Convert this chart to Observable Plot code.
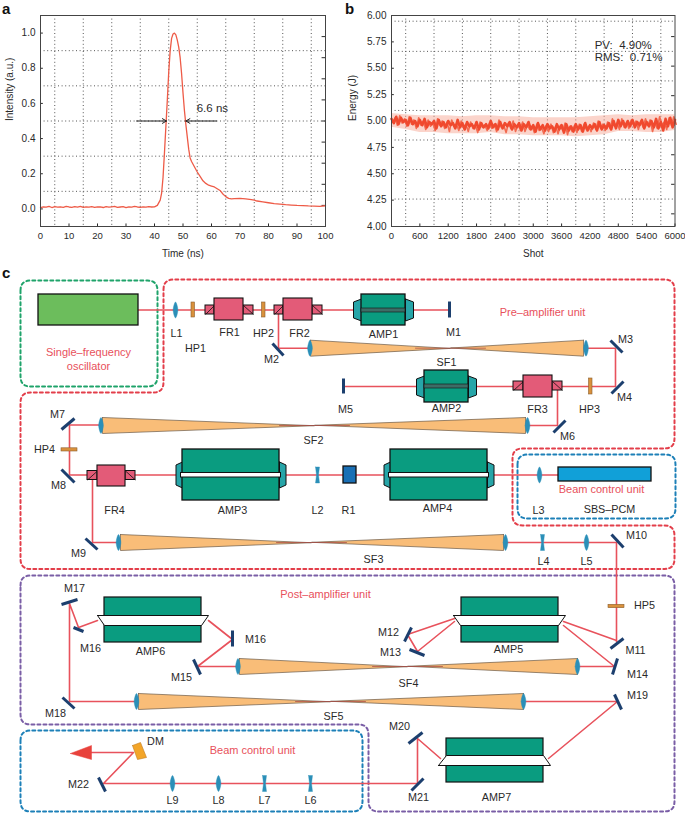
<!DOCTYPE html>
<html><head><meta charset="utf-8">
<script src="https://cdn.jsdelivr.net/npm/d3@7"></script>
<script src="https://cdn.jsdelivr.net/npm/@observablehq/plot@0.6"></script>
<style>
html,body{margin:0;padding:0;background:#fff}
#page{position:relative;width:685px;height:814px;overflow:hidden;font-family:"Liberation Sans",Arial,sans-serif}
#page>div,#page>svg{position:absolute}
.tag{font-weight:bold;font-size:15px;color:#111;line-height:15px}
svg{font-family:"Liberation Sans",Arial,sans-serif}
</style></head><body><div id="page"></div>
<script>
// ---------- panel a ----------
const pulseTime=[0,1,2,3,4,5,6,7,8,9,10,11,12,13,14,15,16,17,18,19,20,21,22,23,24,25,26,27,28,29,30,31,32,33,34,35,36,37,38,39,40,41,42,42.5,43,43.5,44,44.5,45,45.5,46,46.5,47,47.5,48,48.5,49,49.5,50,50.5,51,51.5,52,52.5,53,54,55,56,57,58,59,60,61,62,63,64,65,66,67,68,70,72,74,75,76,78,80,82,84,86,88,90,92,94,96,98,100];
const pulseValue=[.008,.012,.010,.014,.008,.013,.010,.012,.009,.014,.011,.009,.013,.010,.015,.009,.012,.010,.013,.009,.012,.011,.008,.013,.010,.012,.014,.009,.011,.013,.008,.012,.010,.014,.011,.009,.012,.010,.013,.011,.012,.020,.050,.090,.180,.320,.470,.620,.780,.900,.970,.995,1.0,.990,.960,.920,.860,.770,.660,.560,.480,.410,.340,.290,.270,.240,.210,.185,.160,.145,.135,.130,.125,.115,.105,.085,.070,.060,.057,.058,.060,.057,.053,.050,.045,.040,.035,.030,.027,.024,.022,.020,.019,.017,.016,.015,.018];
const pulseTicks=[0,10,20,30,40,50,60,70,80,90,100];
const pulseYTicks=[0,.2,.4,.6,.8,1];
const pulseGridX=[5,15,25,35,45,55,65,75,85,95];
const pulseGridY=[.1,.3,.5,.7,.9];
const pulseRightTicks=[.98,.86,.74,.62,.50,.38,.26,.14,.02];
// ---------- panel b ----------
const energyValue=[5.02,4.98,5.04,4.97,5.03,4.99,5.01,4.96,5.03,4.97,5.00,4.95,5.01,4.96,5.02,4.94,4.99,4.97,5.00,4.93,
5.01,4.95,4.99,4.94,5.00,4.96,4.98,4.93,5.01,4.94,4.98,4.92,4.99,4.95,4.97,4.93,4.99,4.92,4.98,4.94,
4.97,4.93,5.00,4.94,4.97,4.92,4.99,4.93,4.98,4.95,4.99,4.92,4.97,4.94,4.98,4.91,4.97,4.94,4.99,4.92,
4.96,4.90,4.98,4.92,4.96,4.91,4.97,4.93,4.95,4.90,4.97,4.92,4.96,4.89,4.97,4.91,4.95,4.90,4.97,4.92,
4.96,4.90,4.98,4.91,4.96,4.93,4.97,4.91,4.99,4.92,4.96,4.93,4.98,4.92,5.00,4.93,5.01,4.95,5.00,4.94,
5.00,4.95,5.01,4.94,4.99,4.96,5.01,4.93,4.99,4.95,5.00,4.94,5.02,4.93,4.99,4.91,5.02,4.95,5.03,4.94,5.01];
const energyValue2=[4.99,5.03,4.96,5.05,4.98,5.02,4.95,5.04,4.97,5.01,4.93,5.03,4.96,5.00,4.92,5.01,4.95,4.98,4.91,5.02,
4.96,5.00,4.93,4.99,4.90,5.01,4.95,4.97,4.91,5.00,4.94,4.97,4.90,4.99,4.93,4.96,4.89,4.99,4.94,4.96,
4.91,4.98,4.93,4.97,4.90,5.01,4.94,4.96,4.89,4.98,4.93,5.00,4.90,4.96,4.92,4.99,4.90,4.96,4.92,4.95,
4.89,4.97,4.91,4.94,4.88,4.96,4.90,4.97,4.89,4.95,4.88,4.96,4.91,4.98,4.87,4.95,4.90,4.96,4.89,4.97,
4.90,4.97,4.92,4.95,4.90,4.98,4.92,5.00,4.93,4.97,4.91,4.99,4.93,5.02,4.95,4.98,4.92,5.02,4.94,4.99,
4.93,5.01,4.96,5.00,4.92,5.00,4.94,5.02,4.96,5.01,4.90,4.98,4.93,5.04,4.96,4.99,4.92,5.03,4.96,5.04,4.97];
const energyHigh=[5.07,5.06,5.05,5.05,5.05,5.04,5.05,5.05,5.04,5.04,5.03,5.03,5.03,5.03,5.04,5.05,5.06,5.05,5.06,5.06,5.06];
const energyLow=[4.94,4.92,4.89,4.89,4.88,4.88,4.88,4.89,4.87,4.87,4.86,4.86,4.86,4.85,4.86,4.87,4.90,4.90,4.89,4.89,4.91];
const shotTicks=[0,600,1200,1800,2400,3000,3600,4200,4800,5400,6000];
const energyTicks=[4,4.25,4.5,4.75,5,5.25,5.5,5.75,6];
const shotGrid=[300,900,1500,2100,2700,3300,3900,4500,5100,5700];
const energyGrid=[4.26,4.54,4.82,5.10,5.38,5.66,5.946];
const energyRightTicks=[5.8,5.52,5.24,4.96,4.68,4.4,4.12];
const ink="#2a2a2a", gridInk="#555";
const gridDash="1,2.6";

function basePanel(cfg){
 const {xd,yd,xt,yt,xg,yg,rt,xl,yl,left,fmt}=cfg;
 return [
  Plot.ruleX(xg,{stroke:gridInk,strokeDasharray:gridDash,strokeWidth:1}),
  Plot.ruleY(yg,{stroke:gridInk,strokeDasharray:gridDash,strokeWidth:1}),
  Plot.ruleX(xt,{y1:yd[0],y2:yd[0]+(yd[1]-yd[0])*0.012,stroke:ink}),
  Plot.ruleY(yt,{x1:xd[0],x2:xd[0]+(xd[1]-xd[0])*0.01,stroke:ink}),
  Plot.ruleY(rt,{x1:xd[1]-(xd[1]-xd[0])*0.012,x2:xd[1],stroke:ink}),
  Plot.axisX(xt,{tickSize:0,tickPadding:6,fontSize:9.5,color:ink,tickFormat:d3.format("d"),label:null}),
  Plot.axisY(yt,{tickSize:0,tickPadding:5,fontSize:10,color:ink,tickFormat:fmt,label:null}),
  Plot.text([xl],{frameAnchor:"bottom",dy:30,fontSize:10,fill:ink}),
  Plot.text([yl],{frameAnchor:"left",dx:-left,rotate:-90,fontSize:10,fill:ink})
 ];
}
const panelA=Plot.plot({width:340,height:265,marginTop:15,marginBottom:39,marginLeft:40,marginRight:15,style:{background:"transparent",overflow:"visible"},
 x:{domain:[0,100]},y:{domain:[-.1,1.1]},
 marks:[
  ...basePanel({xd:[0,100],yd:[-.1,1.1],xt:pulseTicks,yt:pulseYTicks,xg:pulseGridX,yg:pulseGridY,rt:pulseRightTicks,xl:"Time (ns)",yl:"Intensity (a.u.)",left:31,fmt:d3.format(".1f")}),
  Plot.line(pulseTime.map((t,i)=>({t,v:pulseValue[i]})),{x:"t",y:"v",stroke:"#ee5b47",strokeWidth:1.3}),
  Plot.arrow([{a:33.7,b:44.2},{a:61.8,b:51}],{x1:"a",x2:"b",y1:.5,y2:.5,stroke:"#222",strokeWidth:1,headLength:7,bend:0}),
  Plot.text(["6.6 ns"],{x:60.3,y:.573,fontSize:11.5,fill:ink}),
  Plot.frame({stroke:"#444",strokeWidth:1})
 ]});
panelA.style.left="0";panelA.style.top="0";
const panelB=Plot.plot({width:345,height:265,marginTop:15,marginBottom:39,marginLeft:51,marginRight:10.5,style:{background:"transparent",overflow:"visible"},
 x:{domain:[0,6000]},y:{domain:[4,6]},
 marks:[
  ...basePanel({xd:[0,6000],yd:[4,6],xt:shotTicks,yt:energyTicks,xg:shotGrid,yg:energyGrid,rt:energyRightTicks,xl:"Shot",yl:"Energy (J)",left:39,fmt:d3.format(".2f")}),
  Plot.areaY(energyHigh.map((h,i)=>({s:i*300,h,l:energyLow[i]})),{x:"s",y1:"l",y2:"h",fill:"#f7a08c",fillOpacity:.45}),
  Plot.line(energyValue2.map((v,i)=>({s:i*50+25,v})),{x:"s",y:"v",stroke:"#f26a50",strokeWidth:1.6,strokeLinejoin:"round"}),
  Plot.line(energyValue.map((v,i)=>({s:i*50,v})),{x:"s",y:"v",stroke:"#f0492e",strokeWidth:2.6,strokeLinejoin:"round"}),
  Plot.text(["PV:  4.90%"],{x:4300,y:5.72,textAnchor:"start",fontSize:11.5,fill:ink}),
  Plot.text(["RMS:  0.71%"],{x:4300,y:5.6,textAnchor:"start",fontSize:11.5,fill:ink}),
  Plot.frame({stroke:"#444",strokeWidth:1})
 ]});
panelB.style.left="340px";panelB.style.top="0";

// ---------- panel c: schematic in scene units ----------
const beamRed="#e8525c", navy="#1c3f6e", teal="#0a9c80", capTeal="#27a5a8", rose="#e35b78", orange="#d9913c", coneFill="#f9bd78", lensBlue="#2b8fb8";
const dashedBoxes=[
 {stroke:"#1fa36a",pts:[[20,280],[157,280],[157,386],[20,386]]},
 {stroke:"#e33e4a",pts:[[163,279],[674,279],[674,448],[512,448],[512,525],[674,525],[674,568.5],[20,568.5],[20,392],[163,392]]},
 {stroke:"#7a5ea6",pts:[[20,575],[674,575],[674,811],[368,811],[368,724],[20,724]]},
 {stroke:"#1d80b8",pts:[[20,730],[362,730],[362,811],[20,811]]},
 {stroke:"#1d80b8",pts:[[517,454],[675,454],[675,518],[517,518]]}
];
const beams=[
 [[138,309.5],[449,309.5]],
 [[278,309.5],[278,347.7],[310,347.7]],
 [[586,347.7],[615,347.7],[615,386],[343,386]],
 [[557,386],[557,425],[527,425]],
 [[100,424.5],[69,424.5],[69,474.5],[558,474.5]],
 [[92,474.5],[92,542],[118,542]],
 [[505,542],[616,542],[616,641]],
 [[616,640],[563,621]],
 [[563,625],[614,666],[579,666]],
 [[454,618],[407,634],[417,651],[454,621]],
 [[97,620],[78,627],[69,603],[69,701],[136,701]],
 [[208,620],[232,639],[197,666],[237,666]],
 [[525,701],[617,701],[548,758]],
 [[440,758],[417,738],[417,783],[103,783],[133,752],[90,752]]
];
const cones=[ // x left, x centre, x right, y centre, half height
 [310,450,583,347.7,8],[102,314,525,425,8],[120,311,503,542,8],[239,407,577,666,8],[138,330,523,701,8]
];
const convexLenses=[ // x, y centre, half height, half width
 [175,309.5,8,2.4],[309.5,347.7,8,2.4],[585.5,347.7,8,2.4],[100.5,425,8,2.4],[527,425,8,2.4],[539,474.5,8,2.4],[118,542,8,2.4],[505,542,8,2.4],[586,542,8,2.4],[237.5,666,8,2.4],[577,666,8,2.4],[136,701,8,2.4],[523,701,8,2.4],[172,783,8,2.4],[218,783,8,2.4]
];
const concaveLenses=[[317,474.5,8],[542,542,8],[264,783,8],[310,783,8]];
const waveplates=[ // x1,x2,y1,y2
 [191,194.5,302,317],[261.5,265,302,317],[588.5,592,378,394],[61,77,447.8,451],[608,624,604.3,607.7]
];
const faraday=[ // main x1,x2,y1,y2, cube y half, left cube x1, right cube x2
 [214,243,298,320,4.5,205,253,309.5],[283,312,298,320,4.5,274,322,309.5],[523,552,375,397,4.5,513,562,385.5],[97,125,465,486,4.5,87,135,475]
];
const ampsWithCaps=[ // body x1,x2,y1,y2, cap width, cap y1, cap y2, band y1, band y2, band colour
 [361,405,294,325,8,300,319,308,312,"#3d6d66"],
 [424,468,370,402,8,377,396,384,388,"#3d6d66"],
 [182,279,449,500,6.5,463,486,472.5,477,"#ffffff"],
 [390,487,449,500,6.5,463,486,472.5,477,"#ffffff"]
];
const ampsWithWindow=[ // body x1,x2,y1,y2, window x wide1,wide2, narrow1,narrow2, y at wide, y at narrow
 [461,558,597,642,453,565,460,558,615,625],
 [104,201,597,642,97,208,104,201,615,625],
 [446,543,738,782,438,550,446,543,765,755]
];
const plainRects=[ // x1,x2,y1,y2,fill
 [38,138,294,325,"#6cbd5c"],[343,356,466,483,"#1a6fb5"],[558,651,467,481,"#11a0d8"]
];
const mirrors=[
 [272,343,283,355],[610,340,622,352],[611,393,623,381],[449,301,449,317],[343,378,343,393],[553,432,565,420],
 [61,429,74,418],[61,469,74,482],[85,538,97,549],[611,534,623,547],[61,604,77,599],[73,627,83,631],
 [232,630,232,646],[193,659,200,674],[62,697,74,708],[404,641,411,627],[409,649,424,655],[610,648,623,638],
 [612,674,617,658],[614,694,621,709],[408,743,422,732],[411,790,423,778],[98,777,105,791]
];
const labels=[
 ["L1",176,333],["HP1",195,348],["FR1",229,332],["HP2",263,333],["FR2",299,333],["M2",271,359],["AMP1",383,334],["M1",453,332],
 ["M3",625,339],["SF1",446,362],["M5",345,409],["AMP2",446,408],["FR3",537,409],["HP3",589,409],["M4",624,397],["M6",567,436],
 ["M7",57,414],["HP4",44,449],["M8",58,485],["M9",78,553],["SF2",313,440],["FR4",114,510],["AMP3",232,510],["L2",317,510],["R1",348,510],
 ["AMP4",437,508],["L3",538,510],["SBS–PCM",609,509],["M10",636,535],["SF3",373,559],["L4",543,561],["L5",586,561],["HP5",644,605],
 ["M17",74,588],["M16",90,648],["AMP6",150,651],["M16",255,639],["M15",181,677],["M18",55,713],["SF5",333,716],["DM",155,741],["M22",78,784],
 ["L9",172,800],["L8",218,800],["L7",264,800],["L6",310,800],
 ["M12",388,632],["M13",390,652],["AMP5",508,649],["M11",635,650],["M14",637,674],["SF4",408,683],["M19",637,695],["M20",399,726],["M21",418,797],["AMP7",496,797]
];
const redLabels=[["Single–frequency",88,352],["oscillator",88,366],["Pre–amplifier unit",542,312],["Beam control unit",601,489],["Post–amplifier unit",325,594],["Beam control unit",252,750]];
const deformable=[[132,745],[140,742],[146,757],[137,759]];
const outputArrow=[[70,753],[91,745],[91,759]];

function roundLoop(v,r){
 const out=[],n=v.length;
 for(let i=0;i<n;i++){
  const p=v[i],a=v[(i+n-1)%n],b=v[(i+1)%n];
  const la=Math.hypot(a[0]-p[0],a[1]-p[1]),lb=Math.hypot(b[0]-p[0],b[1]-p[1]);
  const s=[p[0]+(a[0]-p[0])*r/la,p[1]+(a[1]-p[1])*r/la],e=[p[0]+(b[0]-p[0])*r/lb,p[1]+(b[1]-p[1])*r/lb];
  for(let k=0;k<=6;k++){const t=k/6;out.push([(1-t)*(1-t)*s[0]+2*t*(1-t)*p[0]+t*t*e[0],(1-t)*(1-t)*s[1]+2*t*(1-t)*p[1]+t*t*e[1]]);}
 }
 out.push(out[0]);return out;
}
const X=d=>d[0],Y=d=>d[1];
const poly=(pts,fill,stroke="#111",w=1,extra={})=>Plot.line([...pts,pts[0]],{x:X,y:Y,fill,stroke,strokeWidth:w,strokeLinejoin:"miter",...extra});
const box=(x1,x2,y1,y2,fill,w=1.2,stroke="#111")=>Plot.rect([0],{x1:()=>x1,x2:()=>x2,y1:()=>y1,y2:()=>y2,fill,stroke,strokeWidth:w,inset:0});
const seg=(a,b,c,d,stroke,w)=>Plot.link([0],{x1:()=>a,y1:()=>b,x2:()=>c,y2:()=>d,stroke,strokeWidth:w});

const marks=[];
dashedBoxes.forEach(b=>marks.push(Plot.line(roundLoop(b.pts,10),{x:X,y:Y,stroke:b.stroke,strokeWidth:2,strokeDasharray:"3,3",curve:"linear"})));
beams.forEach(b=>marks.push(Plot.line(b,{x:X,y:Y,stroke:beamRed,strokeWidth:1.6})));
cones.forEach(([a,m,z,y,h])=>{
 marks.push(poly([[a,y-h],[m,y+.2],[a,y+h]],coneFill,"#6b5a48",.7));
 marks.push(poly([[z,y-h],[m,y-.2],[z,y+h]],coneFill,"#6b5a48",.7));
});
marks.push(...cones.map(([a,m,z,y])=>Plot.line([[m-35,y],[m+35,y]],{x:X,y:Y,stroke:"#a8453f",strokeWidth:.7})));
convexLenses.forEach(([x,y,h,w])=>marks.push(Plot.line([[x,y-h],[x-w,y],[x,y+h],[x+w,y]],{x:X,y:Y,fill:lensBlue,stroke:lensBlue,strokeWidth:.4,curve:"cardinal-closed"})));
concaveLenses.forEach(([x,y,h])=>marks.push(poly([[x-2,y-h],[x+2,y-h],[x+1,y],[x+2,y+h],[x-2,y+h],[x-1,y]],lensBlue,lensBlue,.4)));
waveplates.forEach(([a,b,c,d])=>marks.push(box(a,b,c,d,orange,.6,"#8a6030")));
faraday.forEach(([a,b,c,d,h,l,r,cy])=>{
 marks.push(box(l,a,cy-h,cy+h,rose,1),box(b,r,cy-h,cy+h,rose,1));
 marks.push(seg(l,cy+h,a,cy-h,"#111",.8),seg(b,cy-h,r,cy+h,"#111",.8));
 marks.push(box(a,b,c,d,rose,1.1));
});
ampsWithCaps.forEach(([a,b,c,d,w,y1,y2,b1,b2,col])=>{
 marks.push(poly([[a,y1-1.5],[a-w,y1+1.5],[a-w,y2-1.5],[a,y2+1.5]],capTeal,"#111",1));
 marks.push(poly([[b,y1-1.5],[b+w,y1+1.5],[b+w,y2-1.5],[b,y2+1.5]],capTeal,"#111",1));
 marks.push(box(a,b,c,d,teal,1.3));
 marks.push(box(col==="#ffffff"?a-1.5:a,col==="#ffffff"?b+1.5:b,b1,b2,col,col==="#ffffff"?1:.6));
});
ampsWithWindow.forEach(([a,b,c,d,w1,w2,n1,n2,yw,yn])=>{
 marks.push(box(a,b,c,d,teal,1.2));
 marks.push(poly([[w1,yw],[w2,yw],[n2,yn],[n1,yn]],"#ffffff","#111",1));
});
plainRects.forEach(([a,b,c,d,f])=>marks.push(box(a,b,c,d,f,1.3)));
mirrors.forEach(([a,b,c,d])=>marks.push(seg(a,b,c,d,navy,3)));
marks.push(poly(deformable,"#f3a528","#c07a20",.6));
marks.push(poly(outputArrow,"#e8423c","#e8423c",.5));
marks.push(Plot.text(labels,{x:d=>d[1],y:d=>d[2],text:d=>d[0],fontSize:10.8,fill:ink}));
marks.push(Plot.text(redLabels,{x:d=>d[1],y:d=>d[2],text:d=>d[0],fontSize:11,fill:"#e8505b"}));
const panelC=Plot.plot({width:685,height:550,margin:0,style:{background:"transparent",overflow:"visible"},
 x:{domain:[0,685],axis:null},y:{domain:[814,264],axis:null},marks});
panelC.style.left="0";panelC.style.top="264px";

const page=document.getElementById("page");
page.append(panelA,panelB,panelC);
[["a",2,1],["b",345,1],["c",2,265]].forEach(([t,x,y])=>{const d=document.createElement("div");d.className="tag";d.textContent=t;d.style.left=x+"px";d.style.top=y+"px";page.append(d);});
</script></body></html>
